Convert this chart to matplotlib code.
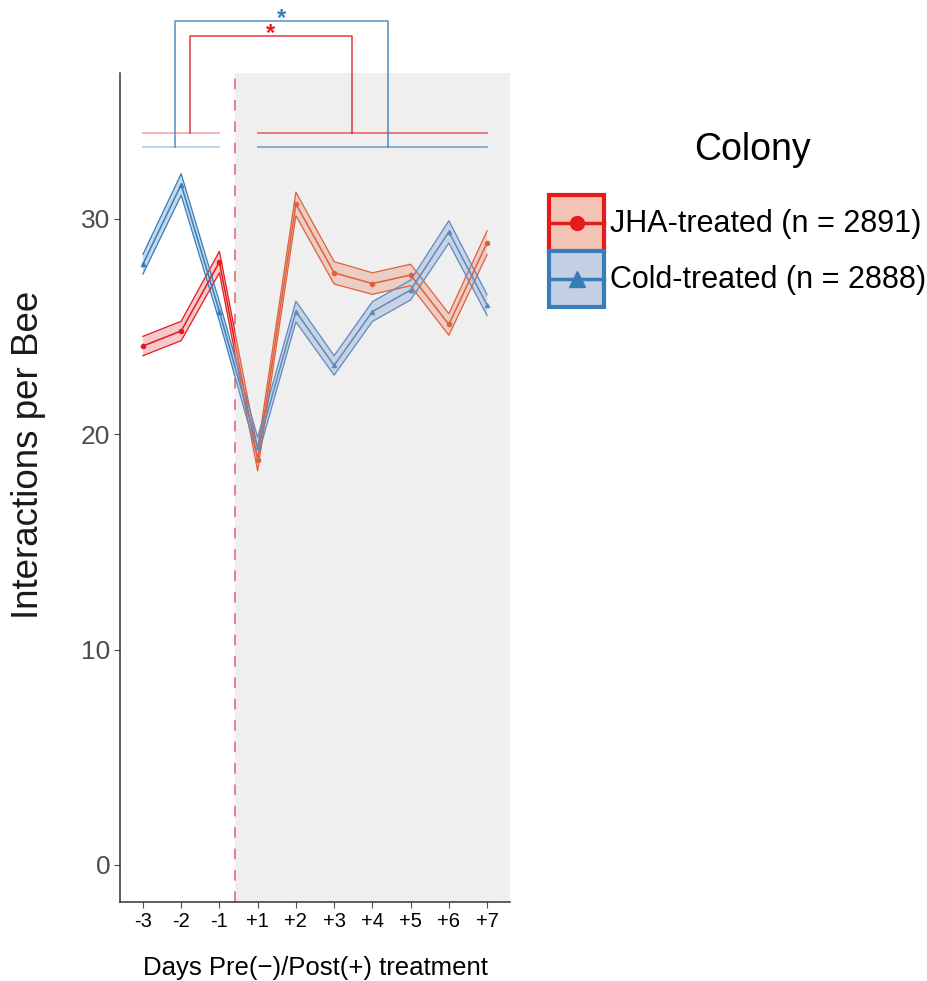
import matplotlib.pyplot as plt
from matplotlib.patches import Rectangle
from matplotlib.lines import Line2D
from matplotlib.legend_handler import HandlerBase

plt.rcParams['font.family'] = ['Liberation Sans', 'DejaVu Sans']

# data
days = ['-3', '-2', '-1', '+1', '+2', '+3', '+4', '+5', '+6', '+7']
jha_mean = [24.1, 24.8, 28.0, 18.8, 30.7, 27.5, 27.0, 27.4, 25.1, 28.9]
jha_se = [0.45, 0.45, 0.5, 0.5, 0.55, 0.52, 0.5, 0.5, 0.5, 0.55]
cold_mean = [27.9, 31.6, 25.7, 19.4, 25.7, 23.2, 25.7, 26.7, 29.4, 26.0]
cold_se = [0.46, 0.5, 0.45, 0.45, 0.48, 0.45, 0.46, 0.46, 0.52, 0.48]
labels = ['JHA-treated (n = 2891)', 'Cold-treated (n = 2888)']

x = list(range(1, len(days) + 1))
split = 3.42
ymin, ymax = -1.72, 36.78


class BoxLine(HandlerBase):
    # filled box with a line + marker centred in it
    def create_artists(self, legend, orig_handle, xdescent, ydescent, width, height, fontsize, trans):
        fc, ec, mk, ms = orig_handle
        box = Rectangle((-xdescent, -ydescent), width, height, facecolor=fc, edgecolor=ec,
                        lw=3, transform=trans)
        yc = -ydescent + height / 2
        ln = Line2D([-xdescent, -xdescent + width], [yc, yc], color=ec, lw=2.5, transform=trans)
        pt = Line2D([-xdescent + width / 2], [yc], color=ec, marker=mk, ms=ms, ls='none',
                    transform=trans)
        return [box, ln, pt]


fig = plt.figure(figsize=(9.28, 9.81), dpi=100)
ax = fig.add_axes([0.1293, 0.0805, 0.4203, 0.8451])
ax.set_xlim(0.4, 10.6)
ax.set_ylim(ymin, ymax)

# post-treatment shading and divider
ax.axvspan(split, 10.6, color='#EFEFEF', zorder=0, lw=0)
ax.axvline(split, color='#E0606E', ls=(0, (7, 7)), lw=1.1, zorder=1)

styles = [
    # mean, se, marker, pre (line, fill), post (line, fill)
    (jha_mean, jha_se, 'o', ('#E41A1C', '#F4BFC3'), ('#E0603D', '#EBC7BC')),
    (cold_mean, cold_se, '^', ('#377EB8', '#BCD3E9'), ('#5B8AC2', '#C3CFE2')),
]

for mean, se, mk, pre, post in styles:
    lo = [m - s for m, s in zip(mean, se)]
    hi = [m + s for m, s in zip(mean, se)]
    for (lc, fc), (cx0, cx1) in [(pre, (0.4, split)), (post, (split, 10.6))]:
        clip = Rectangle((cx0, ymin), cx1 - cx0, ymax - ymin, transform=ax.transData)
        band = ax.fill_between(x, lo, hi, facecolor=fc, edgecolor='none', alpha=0.85, zorder=2)
        band.set_clip_path(clip)
        for yy in (lo, hi):
            l, = ax.plot(x, yy, color=lc, lw=0.9, zorder=3)
            l.set_clip_path(clip)
        l, = ax.plot(x, mean, color=lc, lw=1.1, marker=mk, ms=3, zorder=4)
        l.set_clip_path(clip)

# significance brackets
for y0, ytop, xl, xr, col in [(33.97, 38.5, 2.22, 6.47, '#E41A1C'),
                              (33.36, 39.19, 1.83, 7.41, '#377EB8')]:
    ax.plot([1, 3], [y0, y0], color=col, alpha=0.35, lw=1.3, clip_on=False)
    ax.plot([4, 10], [y0, y0], color=col, alpha=0.6, lw=1.3, clip_on=False)
    ax.plot([xl, xl, xr, xr], [y0, ytop, ytop, y0], color=col, alpha=0.8, lw=1.2, clip_on=False)
    ax.text((xl + xr) / 2, ytop - 0.4, '*', color=col, fontsize=17, ha='center', va='bottom',
            fontweight='bold', clip_on=False)

ax.set_xticks(x)
ax.set_xticklabels(days, fontsize=14.5, color='black')
ax.set_yticks([0, 10, 20, 30])
ax.tick_params(axis='y', labelsize=19, labelcolor='#4D4D4D', color='#4D4D4D', length=4, pad=3)
ax.tick_params(axis='x', color='#4D4D4D', length=4)
for s in ['top', 'right']:
    ax.spines[s].set_visible(False)
for s in ['left', 'bottom']:
    ax.spines[s].set_color('#333333')
    ax.spines[s].set_linewidth(1.1)

ax.set_xlabel('Days Pre(\u2212)/Post(+) treatment', fontsize=18.5, labelpad=18)
ax.set_ylabel('Interactions per Bee', fontsize=26.5, color='#1A1A1A')
ax.yaxis.set_label_coords(-0.19, 0.539)

handles = [('#F2C4B4', '#E41A1C', 'o', 10), ('#C3CFE3', '#377EB8', '^', 11)]
leg = fig.legend(handles, labels, loc='upper left', bbox_to_anchor=(0.562, 0.893),
                 handler_map={tuple: BoxLine()},
                 fontsize=22, title='Colony', title_fontsize=27, frameon=False,
                 handlelength=1.8, handleheight=2.45, labelspacing=0.0, handletextpad=0.2)
leg._legend_box.sep = 19
leg.get_title().set_x(15)

fig.savefig('out.png', dpi=100)
